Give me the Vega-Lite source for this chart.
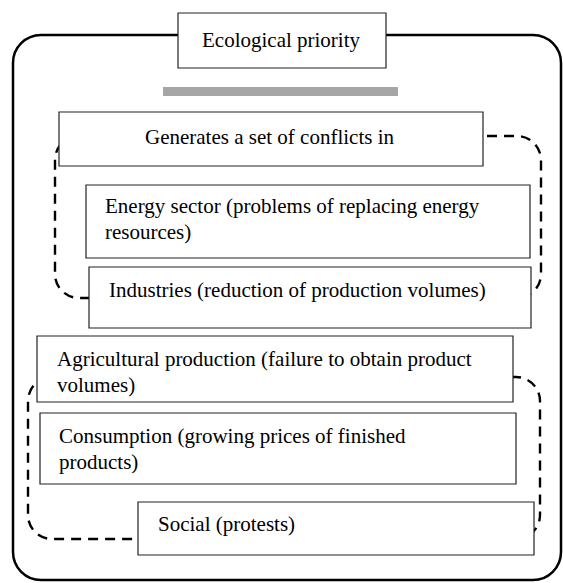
{
  "$schema": "https://vega.github.io/schema/vega-lite/v6.json",
  "width": 563,
  "height": 583,
  "autosize": {"type": "none"},
  "padding": 0,
  "background": "white",
  "config": {"view": {"stroke": null}},
  "datasets": {
    "outer": [{"x1": 13, "y1": 35, "x2": 561, "y2": 580}],
    "loops": [
      {"x1": 55, "y1": 136, "x2": 541, "y2": 298},
      {"x1": 28, "y1": 377, "x2": 540, "y2": 539}
    ],
    "boxes": [
      {"name": "title", "x1": 178, "y1": 13, "x2": 386, "y2": 68},
      {"name": "gen", "x1": 59, "y1": 112, "x2": 483, "y2": 166},
      {"name": "energy", "x1": 86, "y1": 185, "x2": 530, "y2": 258},
      {"name": "industries", "x1": 89, "y1": 267, "x2": 531, "y2": 328},
      {"name": "agri", "x1": 37, "y1": 336, "x2": 513, "y2": 402},
      {"name": "consumption", "x1": 40, "y1": 413, "x2": 516, "y2": 484},
      {"name": "social", "x1": 138, "y1": 502, "x2": 534, "y2": 555}
    ],
    "bar": [{"x1": 163, "y1": 87, "x2": 398, "y2": 96}],
    "labels": [
      {"t": "Ecological priority", "x": 202, "y": 41},
      {"t": "Generates a set of conflicts in", "x": 145, "y": 138},
      {"t": "Energy sector (problems of replacing energy", "x": 105, "y": 207},
      {"t": "resources)", "x": 105, "y": 233},
      {"t": "Industries (reduction of production volumes)", "x": 109, "y": 291},
      {"t": "Agricultural production (failure to obtain product", "x": 57, "y": 360},
      {"t": "volumes)", "x": 57, "y": 386},
      {"t": "Consumption (growing prices of finished", "x": 59, "y": 437},
      {"t": "products)", "x": 59, "y": 463},
      {"t": "Social (protests)", "x": 158, "y": 525}
    ]
  },
  "layer": [
    {
      "data": {"name": "outer"},
      "mark": {"type": "rect", "fillOpacity": 0, "stroke": "black", "strokeWidth": 2.5, "cornerRadius": 28},
      "encoding": {
        "x": {"field": "x1", "type": "quantitative", "scale": {"domain": [0, 563], "nice": false, "zero": false}, "axis": null},
        "x2": {"field": "x2"},
        "y": {"field": "y1", "type": "quantitative", "scale": {"domain": [0, 583], "nice": false, "zero": false, "reverse": true}, "axis": null},
        "y2": {"field": "y2"}
      }
    },
    {
      "data": {"name": "loops"},
      "mark": {"type": "rect", "fillOpacity": 0, "stroke": "black", "strokeWidth": 2.4, "strokeDash": [10, 7], "cornerRadius": 24},
      "encoding": {
        "x": {"field": "x1", "type": "quantitative"},
        "x2": {"field": "x2"},
        "y": {"field": "y1", "type": "quantitative"},
        "y2": {"field": "y2"}
      }
    },
    {
      "data": {"name": "boxes"},
      "mark": {"type": "rect", "fill": "white", "fillOpacity": 1, "stroke": "#222222", "strokeWidth": 1.2},
      "encoding": {
        "x": {"field": "x1", "type": "quantitative"},
        "x2": {"field": "x2"},
        "y": {"field": "y1", "type": "quantitative"},
        "y2": {"field": "y2"}
      }
    },
    {
      "data": {"name": "bar"},
      "mark": {"type": "rect", "fill": "#a6a6a6"},
      "encoding": {
        "x": {"field": "x1", "type": "quantitative"},
        "x2": {"field": "x2"},
        "y": {"field": "y1", "type": "quantitative"},
        "y2": {"field": "y2"}
      }
    },
    {
      "data": {"name": "labels"},
      "mark": {"type": "text", "align": "left", "baseline": "middle", "font": "Liberation Serif, Times New Roman, serif", "fontSize": 21, "color": "black"},
      "encoding": {
        "x": {"field": "x", "type": "quantitative"},
        "y": {"field": "y", "type": "quantitative"},
        "text": {"field": "t", "type": "nominal"}
      }
    }
  ]
}
